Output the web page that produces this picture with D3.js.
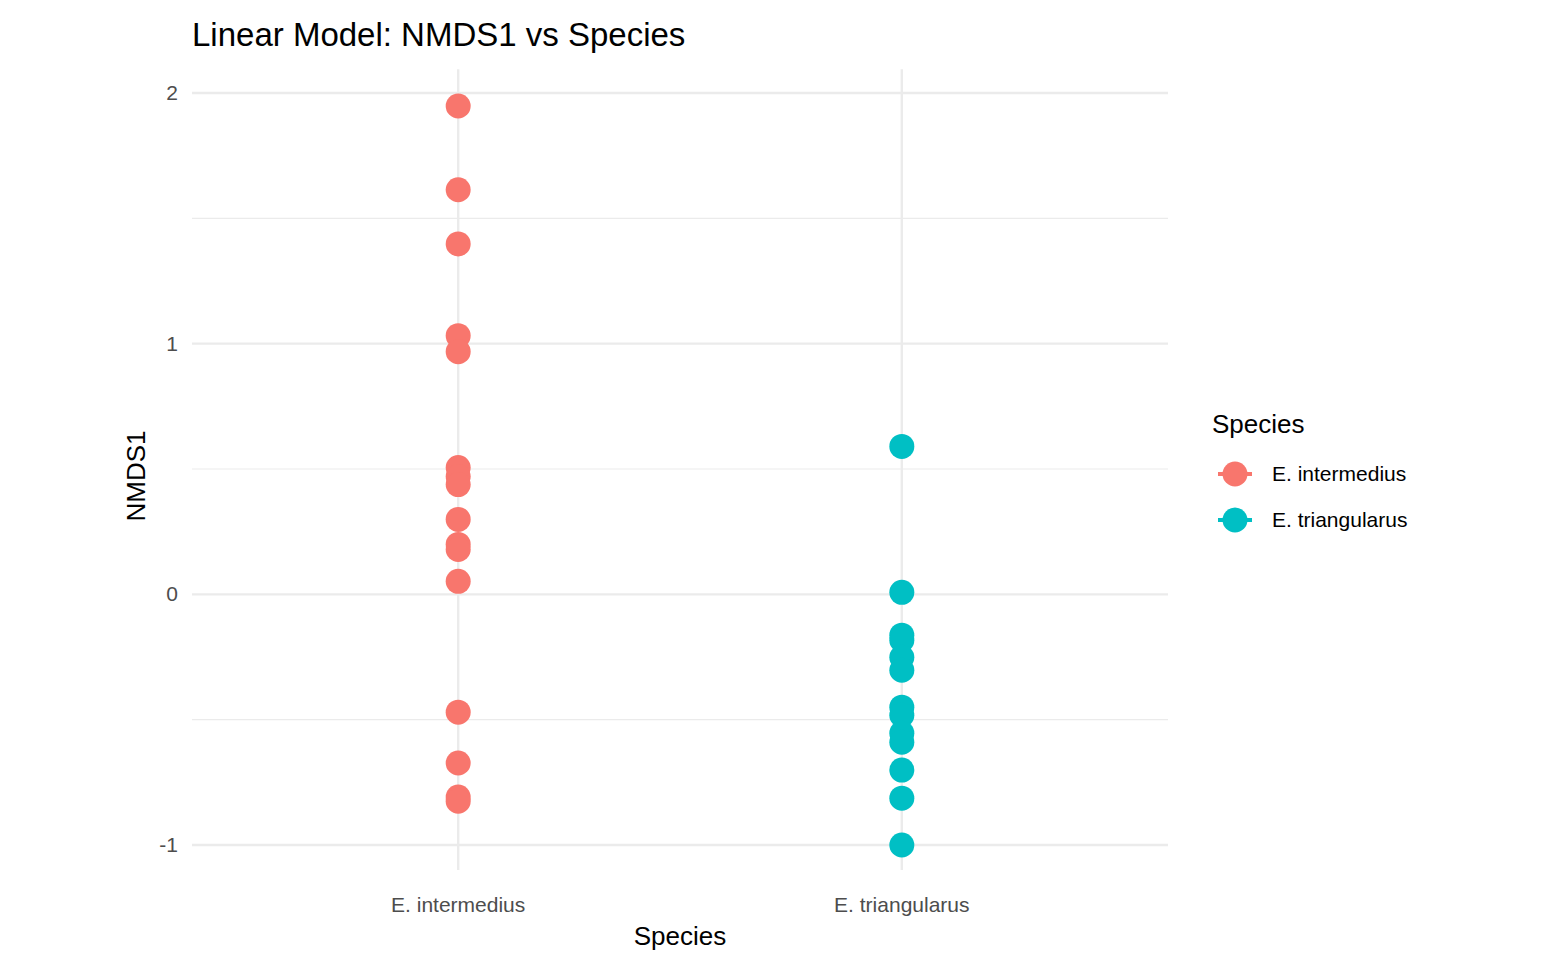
<!DOCTYPE html>
<html><head><meta charset="utf-8">
<script src="https://cdn.jsdelivr.net/npm/d3@7"></script>
<style>body{margin:0;background:#fff;font-family:"Liberation Sans",Arial,sans-serif}</style>
</head><body><div id="chart"></div>
<script>
var species = ["E. intermedius", "E. triangularus"];
var colors = ["#F8766D", "#00BFC4"];
var intermedius = [1.948, 1.614, 1.398, 1.032, 0.968, 0.506, 0.47, 0.438, 0.299, 0.199, 0.179, 0.052, -0.470, -0.673, -0.809, -0.825];
var triangularus = [0.59, 0.008, -0.163, -0.183, -0.251, -0.303, -0.450, -0.482, -0.554, -0.590, -0.701, -0.813, -1.0];
var yTicks = [-1, 0, 1, 2];
var yMinor = [-0.5, 0.5, 1.5];

var w = 1566, h = 975;
var svg = d3.select("#chart").append("svg").attr("width", w).attr("height", h);
var x = d3.scaleLinear().domain([0.4, 2.6]).range([192, 1168]);
var y = d3.scaleLinear().domain([-1, 2]).range([845, 93]);
var yTop = y(2.095), yBot = y(-1.1);

var g = svg.append("g");
yMinor.forEach(function(v){
  g.append("line").attr("x1",192).attr("x2",1168).attr("y1",y(v)).attr("y2",y(v)).attr("stroke","#ebebeb").attr("stroke-width",1.2);
});
yTicks.forEach(function(v){
  g.append("line").attr("x1",192).attr("x2",1168).attr("y1",y(v)).attr("y2",y(v)).attr("stroke","#ebebeb").attr("stroke-width",2.4);
  g.append("text").attr("x",178).attr("y",y(v)+7).attr("text-anchor","end").attr("font-size",21).attr("fill","#4d4d4d").text(v);
});
species.forEach(function(s,i){
  g.append("line").attr("x1",x(i+1)).attr("x2",x(i+1)).attr("y1",yTop).attr("y2",yBot).attr("stroke","#ebebeb").attr("stroke-width",2.4);
  g.append("text").attr("x",x(i+1)).attr("y",912).attr("text-anchor","middle").attr("font-size",21).attr("fill","#4d4d4d").text(s);
});

[intermedius, triangularus].forEach(function(arr,i){
  svg.selectAll(null).data(arr).enter().append("circle")
    .attr("cx", x(i+1)).attr("cy", function(d){return y(d);})
    .attr("r", 12.5).attr("fill", colors[i]);
});

svg.append("text").attr("x",192).attr("y",46).attr("font-size",33).attr("fill","#000").text("Linear Model: NMDS1 vs Species");
svg.append("text").attr("x",680).attr("y",945).attr("text-anchor","middle").attr("font-size",26).text("Species");
svg.append("text").attr("transform","translate(145,476) rotate(-90)").attr("text-anchor","middle").attr("font-size",26).text("NMDS1");

svg.append("text").attr("x",1212).attr("y",433).attr("font-size",26).text("Species");
species.forEach(function(s,i){
  var ly = 474 + i*46;
  svg.append("line").attr("x1",1218).attr("x2",1252).attr("y1",ly).attr("y2",ly).attr("stroke",colors[i]).attr("stroke-width",4);
  svg.append("circle").attr("cx",1235).attr("cy",ly).attr("r",12.5).attr("fill",colors[i]);
  svg.append("text").attr("x",1272).attr("y",ly+7).attr("font-size",21).text(s);
});
</script></body></html>
